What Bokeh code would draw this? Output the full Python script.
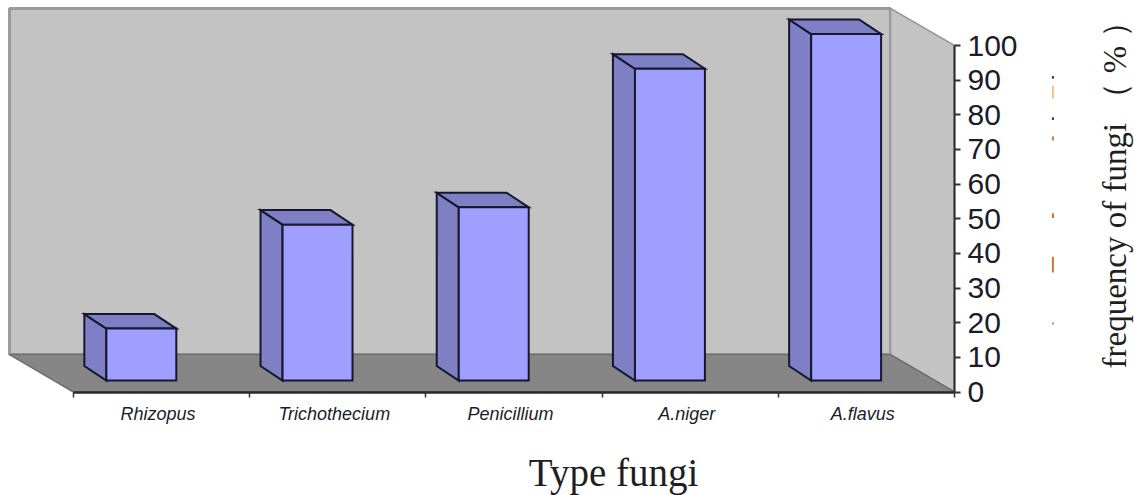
import math
from bokeh.plotting import figure
from bokeh.models import Range1d, FixedTicker, Label, BoxAnnotation, ColumnDataSource
from bokeh.embed import file_html
from bokeh.resources import INLINE

categories = ["Rhizopus", "Trichothecium", "Penicillium", "A.niger", "A.flavus"]
frequency = [15, 45, 50, 90, 100]
y_ticks = list(range(0, 101, 10))
x_title = "Type fungi"
y_title = "frequency of fungi \uff08 % \uff09"

# pseudo-3D geometry, in axis units
WALL_DX, WALL_DY = 0.363, 10.8       # depth of floor
BAR_W = 0.397
BAR_SHIFT_X, BAR_BASE = -0.115, 3.3  # bars stand inside the floor
BAR_DX, BAR_DY = 0.125, 4.2          # depth of a bar
LABEL_SHIFT = -0.02
WALL_TOP = 110.68
N = len(categories)

FRONT = "#9f9fff"
SIDE = "#7f7fc6"
EDGE = "#17172e"
WALL = "#c3c3c3"
WALL_EDGE = "#9a9a9a"
FLOOR = "#868686"
INK = "#1c1c28"

p = figure(width=1134, height=495, output_backend="svg", toolbar_location=None,
           x_range=Range1d(-0.4143, 6.0216), y_range=Range1d(-29.87, 112.99),
           y_axis_location="right", min_border_left=0, min_border_top=0,
           min_border_right=0, min_border_bottom=0,
           outline_line_color=None, background_fill_color="white")
p.grid.visible = False

# back wall, side wall, floor
p.patch([-WALL_DX, N - WALL_DX, N - WALL_DX, -WALL_DX],
        [WALL_DY, WALL_DY, WALL_TOP, WALL_TOP],
        fill_color=WALL, line_color=WALL_EDGE, line_width=3)
p.patch([N - WALL_DX, N, N, N - WALL_DX],
        [WALL_TOP, 100, 0, WALL_DY],
        fill_color=WALL, line_color=WALL_EDGE, line_width=1.5)
p.patch([-WALL_DX, 0, N, N - WALL_DX],
        [WALL_DY, 0, 0, WALL_DY],
        fill_color=FLOOR, line_color="#6f6f6f", line_width=1.5)

# bars
centers = [i + 0.5 + BAR_SHIFT_X for i in range(N)]
lefts = [c - BAR_W / 2 for c in centers]
rights = [c + BAR_W / 2 for c in centers]
tops = [BAR_BASE + v for v in frequency]

side_xs = [[l, l, l - BAR_DX, l - BAR_DX] for l in lefts]
side_ys = [[t, BAR_BASE, BAR_BASE + BAR_DY, t + BAR_DY] for t in tops]
top_xs = [[l, r, r - BAR_DX, l - BAR_DX] for l, r in zip(lefts, rights)]
top_ys = [[t, t, t + BAR_DY, t + BAR_DY] for t in tops]

p.patches(side_xs, side_ys, fill_color=SIDE, line_color=EDGE, line_width=2, line_join="miter")
p.patches(top_xs, top_ys, fill_color=SIDE, line_color=EDGE, line_width=2, line_join="miter")
p.quad(source=ColumnDataSource(dict(left=lefts, right=rights, top=tops, bottom=[BAR_BASE] * N)),
       left="left", right="right", top="top", bottom="bottom",
       fill_color=FRONT, line_color=EDGE, line_width=2, line_join="miter")

# axes, both sitting inside the frame
xa = p.xaxis[0]
xa.fixed_location = 0
label_pos = [i + 0.5 + LABEL_SHIFT for i in range(N)]
xa.ticker = FixedTicker(ticks=label_pos, minor_ticks=list(range(N + 1)))
xa.major_label_overrides = dict(zip(label_pos, categories))
xa.bounds = (0, N)
xa.major_tick_line_color = None
xa.minor_tick_in = 0
xa.minor_tick_out = 5
xa.minor_tick_line_color = "#333333"
xa.minor_tick_line_width = 1.5
xa.axis_line_color = "#2a2a2a"
xa.axis_line_width = 2.5
xa.major_label_text_font = "Liberation Sans"
xa.major_label_text_font_style = "italic"
xa.major_label_text_font_size = "18px"
xa.major_label_text_color = INK
xa.major_label_standoff = 6

ya = p.yaxis[0]
ya.fixed_location = N
ya.ticker = FixedTicker(ticks=y_ticks)
ya.bounds = (0, 100)
ya.axis_line_color = "#2a2a2a"
ya.axis_line_width = 2
ya.major_tick_in = 0
ya.major_tick_out = 6
ya.major_tick_line_color = "#333333"
ya.major_tick_line_width = 2
ya.minor_tick_line_color = None
ya.major_label_text_font = "Liberation Sans"
ya.major_label_text_font_size = "30px"
ya.major_label_text_color = INK
ya.major_label_standoff = 7

# titles
p.add_layout(Label(x=3.065, y=-23.1, text=x_title,
                   text_align="center", text_baseline="middle",
                   text_font="Liberation Serif", text_font_size="39px", text_color="#1f1f1f"))
p.add_layout(Label(x=5.91, y=59.3, text=y_title, angle=math.pi / 2,
                   text_align="center", text_baseline="middle",
                   text_font="Liberation Serif", text_font_size="33px", text_color="#1f1f1f"))

# faint specks left over in the picture next to the axis
for y0, y1, col in [(90.4, 91.2, "#40302a"), (84.7, 88.4, "#f0c090"), (78.5, 79.3, "#40302a"),
                    (72.6, 73.8, "#d08030"), (50.2, 51.6, "#d06a20"), (34.5, 39, "#d0703a"),
                    (19.4, 20.2, "#e0a060")]:
    p.add_layout(BoxAnnotation(left=5.553, right=5.564, bottom=y0, top=y1,
                               fill_color=col, fill_alpha=1, line_color=None))

open("out.html", "w").write(file_html(p, INLINE))
